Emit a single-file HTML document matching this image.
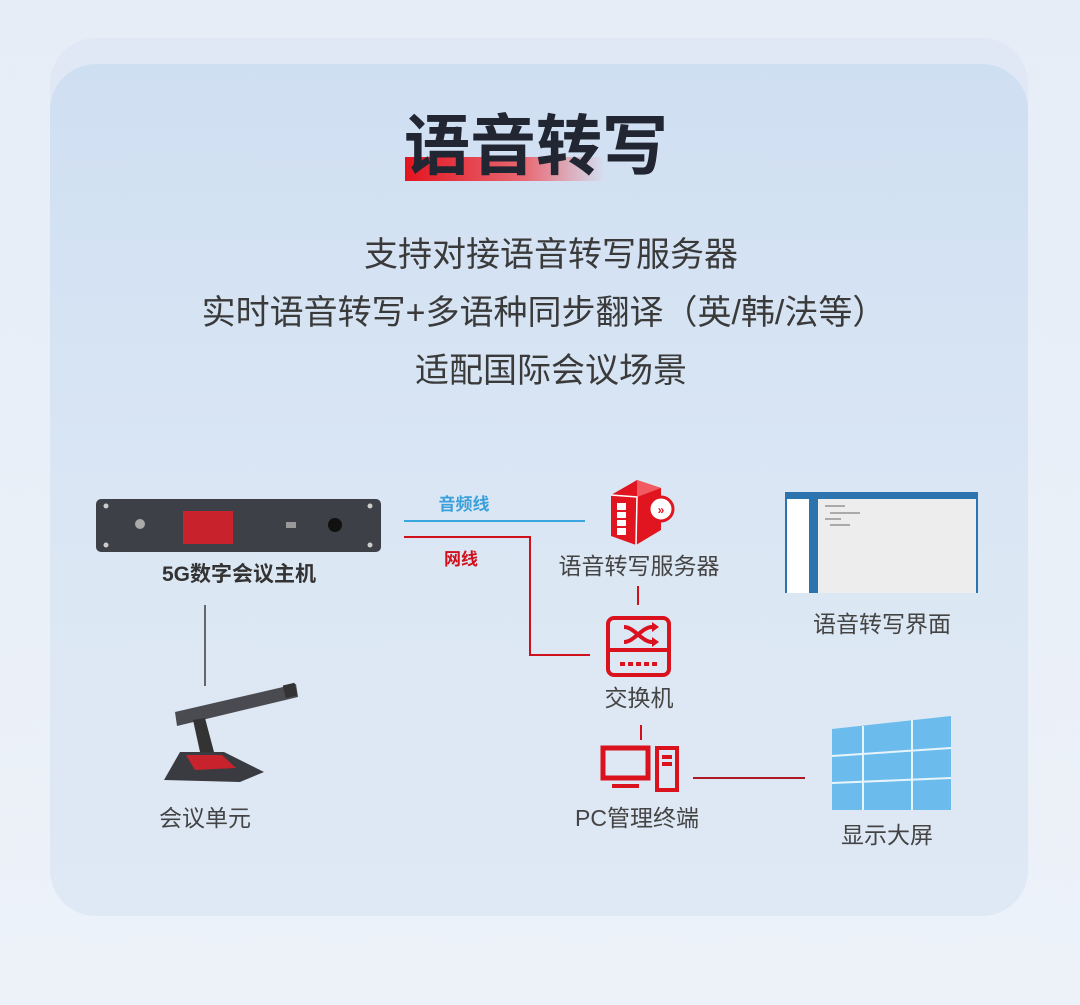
<!DOCTYPE html>
<html><head><meta charset="utf-8"><style>
body{margin:0;width:1080px;height:1005px;background:linear-gradient(#e6edf7,#edf2f9);position:relative;overflow:hidden;font-family:"Liberation Sans","Noto Sans CJK SC",sans-serif}
.outer{position:absolute;left:50px;top:38px;width:978px;height:878px;border-radius:46px;background:#dfe8f4}
.card{position:absolute;left:50px;top:64px;width:978px;height:851px;border-radius:46px;background:linear-gradient(#cfdff2,#dce7f4 60%,#dfe9f5)}
.t{position:absolute;white-space:nowrap;color:#333;}
</style></head><body>
<div class="outer"></div><div class="card"></div>
<div style="position:absolute;left:405px;top:157px;width:200px;height:24px;background:linear-gradient(90deg,#e3141f,#e86a74 60%,rgba(230,150,160,0))"></div>
<div class="t" style="left:404px;top:106px;font-size:66px;font-weight:bold;color:#222633;letter-spacing:0px;line-height:80px">语音转写</div>
<div class="t" style="left:0;width:1102px;text-align:center;top:233px;font-size:34px;line-height:44px;color:#3a3a3a">支持对接语音转写服务器</div>
<div class="t" style="left:0;width:1088px;text-align:center;top:291px;font-size:34px;line-height:44px;color:#3a3a3a">实时语音转写+多语种同步翻译（英/韩/法等）</div>
<div class="t" style="left:0;width:1102px;text-align:center;top:349px;font-size:34px;line-height:44px;color:#3a3a3a">适配国际会议场景</div>

<svg style="position:absolute;left:0;top:0" width="1080" height="1005">
<!-- host -->
<rect x="96" y="499" width="285" height="53" rx="5" fill="#3e4047"/>
<circle cx="106" cy="506" r="2.5" fill="#ccc"/><circle cx="106" cy="545" r="2.5" fill="#ccc"/>
<circle cx="370" cy="506" r="2.5" fill="#ccc"/><circle cx="370" cy="545" r="2.5" fill="#ccc"/>
<circle cx="140" cy="524" r="5" fill="#aaa"/>
<rect x="183" y="511" width="50" height="33" fill="#c8222c"/>
<circle cx="335" cy="525" r="7" fill="#111"/>
<rect x="286" y="522" width="10" height="6" fill="#999"/>
<!-- lines -->
<line x1="404" y1="521" x2="585" y2="521" stroke="#3aa6e0" stroke-width="2"/>
<polyline points="404,537 530,537 530,655 590,655" fill="none" stroke="#d0101b" stroke-width="2"/>
<line x1="205" y1="605" x2="205" y2="686" stroke="#666" stroke-width="2"/>
<line x1="638" y1="586" x2="638" y2="605" stroke="#d0101b" stroke-width="2"/>
<line x1="641" y1="725" x2="641" y2="740" stroke="#d0101b" stroke-width="2"/>
<line x1="693" y1="778" x2="805" y2="778" stroke="#b01825" stroke-width="2"/>
<!-- server icon -->
<path d="M611 495 L637 480 L661 488 L661 530 L636 545 L611 536 Z" fill="#e01520"/>
<path d="M637 480 L661 488 L637 497 Z" fill="#f05a60"/>
<path d="M611 495 L637 497 L636 545" fill="none" stroke="#fff" stroke-width="1.5"/>
<rect x="617" y="503" width="9" height="32" fill="#fff"/>
<g stroke="#e01520" stroke-width="2"><line x1="617" y1="511" x2="626" y2="511"/><line x1="617" y1="519" x2="626" y2="519"/><line x1="617" y1="527" x2="626" y2="527"/></g>
<circle cx="661" cy="509" r="12" fill="#fff" stroke="#e01520" stroke-width="3"/>
<text x="661" y="514" font-size="12" fill="#e01520" text-anchor="middle" font-weight="bold">»</text>
<!-- switch -->
<rect x="608" y="618" width="61" height="57" rx="6" fill="none" stroke="#d9121d" stroke-width="4"/>
<line x1="608" y1="650" x2="669" y2="650" stroke="#d9121d" stroke-width="4"/>
<g stroke="#d9121d" stroke-width="4" fill="none"><path d="M624 627 C634 627 642 642 652 642"/><path d="M624 642 C634 642 642 627 652 627"/></g>
<path d="M652 622 L659 627 L652 632 Z M652 637 L659 642 L652 647 Z" fill="#d9121d"/>
<line x1="620" y1="664" x2="660" y2="664" stroke="#d9121d" stroke-width="4" stroke-dasharray="5,3"/>
<!-- pc -->
<rect x="603" y="748" width="45" height="30" fill="none" stroke="#d9121d" stroke-width="5"/>
<rect x="612" y="784" width="27" height="4" fill="#d9121d"/>
<rect x="657" y="748" width="20" height="42" fill="none" stroke="#d9121d" stroke-width="4"/>
<rect x="662" y="755" width="10" height="4" fill="#d9121d"/><rect x="662" y="762" width="10" height="4" fill="#d9121d"/>
<!-- mic -->
<path d="M175 712 L296 684 L298 697 L177 726 Z" fill="#4a4b50"/>
<rect x="284" y="684" width="12" height="13" fill="#333" transform="rotate(-13 290 690)"/>
<path d="M193 720 L205 718 L214 752 L200 752 Z" fill="#333"/>
<path d="M180 752 L224 752 L264 772 L240 782 L164 780 Z" fill="#3a3b40"/>
<path d="M186 755 L222 755 L236 768 L195 770 Z" fill="#c8222c"/>
<!-- screen ui -->
<rect x="785" y="492" width="193" height="101" fill="#2b74ad"/>
<rect x="818" y="499" width="158" height="94" fill="#ededed"/>
<rect x="787" y="499" width="22" height="94" fill="#fff"/>
<g fill="#aaa"><rect x="825" y="505" width="20" height="2"/><rect x="830" y="512" width="30" height="2"/><rect x="825" y="518" width="16" height="2"/><rect x="830" y="524" width="20" height="2"/></g>
<!-- wall -->
<path d="M832 729 L951 716 L951 810 L832 810 Z" fill="#6bbcec"/>
<g stroke="#e8f4fc" stroke-width="2"><line x1="863" y1="726" x2="863" y2="810"/><line x1="912" y1="720" x2="912" y2="810"/>
<line x1="832" y1="756" x2="951" y2="748"/><line x1="832" y1="783" x2="951" y2="778"/></g>
<g font-family="Liberation Sans,Noto Sans CJK SC,sans-serif" text-anchor="middle">
<text x="464" y="510" font-size="17" fill="#3aa0dc" font-weight="bold">音频线</text>
<text x="461" y="565" font-size="17" fill="#d0101b" font-weight="bold">网线</text>
<text x="239" y="581" font-size="21" fill="#333" font-weight="bold">5G数字会议主机</text>
<text x="639" y="574" font-size="23" fill="#444">语音转写服务器</text>
<text x="882" y="632" font-size="23" fill="#444">语音转写界面</text>
<text x="639" y="706" font-size="23" fill="#444">交换机</text>
<text x="205" y="826" font-size="23" fill="#444">会议单元</text>
<text x="637" y="826" font-size="23" fill="#444">PC管理终端</text>
<text x="887" y="843" font-size="23" fill="#444">显示大屏</text>
</g>
</svg>
</body></html>
